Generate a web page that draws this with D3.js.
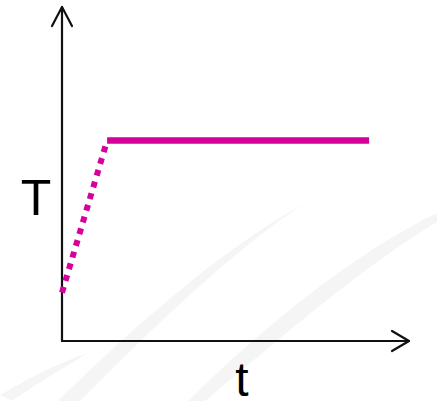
<!DOCTYPE html>
<html>
<head>
<meta charset="utf-8">
<style>
  body { margin: 0; background: #fff; }
  svg { display: block; }
  text { font-family: "Liberation Sans", Arial, sans-serif; fill: #000; }
</style>
</head>
<body>
<svg width="443" height="401"></svg>
<script src="https://cdn.jsdelivr.net/npm/d3@7"></script>
<script>
// heating phase (dotted) and steady phase (solid)
const riseTime = [0, 1.3]
const riseTemp = [1.45, 6.0]
const holdTime = [1.3, 8.85]
const holdTemp = [6.0, 6.0]
const axisLabels = ["T", "t"]

const svg = d3.select("svg")

const x = d3.scaleLinear().domain([0, 10]).range([62, 409])
const y = d3.scaleLinear().domain([0, 10]).range([341, 7])

// faint background streaks
const streaks = [
  "M58,401 C130,330 220,250 305,203 C240,245 160,320 80,401 Z",
  "M188,401 C270,320 360,250 437,213 L437,222 C365,265 290,330 205,401 Z",
  "M0,395 C30,378 60,362 88,353 C60,370 30,388 12,401 Z"
]
svg.append("g").selectAll("path").data(streaks).enter().append("path")
  .attr("d", d => d)
  .attr("fill", "#f4f5f4")

// axes
const ax = svg.append("g").attr("stroke", "#111").attr("fill", "none")
  .attr("stroke-width", 2.2).attr("stroke-linecap", "round").attr("stroke-linejoin", "round")
ax.append("path").attr("d", `M${x(0)},${y(0)}V${y(10)}`)
ax.append("path").attr("d", `M${x(0)},${y(0)}H${x(10)}`)
ax.append("path").attr("d", `M${x(0) - 10},${y(10) + 19}L${x(0)},${y(10)}L${x(0) + 10},${y(10) + 19}`)
ax.append("path").attr("d", `M${x(10) - 17},${y(0) - 10}L${x(10)},${y(0)}L${x(10) - 17},${y(0) + 10}`)

const line = d3.line().x(d => x(d[0])).y(d => y(d[1]))

svg.append("path")
  .datum(d3.zip(riseTime, riseTemp))
  .attr("d", line)
  .attr("fill", "none").attr("stroke", "#d6009a")
  .attr("stroke-width", 6).attr("stroke-dasharray", "6,6.2")

svg.append("path")
  .datum(d3.zip(holdTime, holdTemp))
  .attr("d", line)
  .attr("fill", "none").attr("stroke", "#d6009a")
  .attr("stroke-width", 6.5)

svg.append("text").attr("x", 36).attr("y", 215)
  .attr("text-anchor", "middle").style("font-size", "50px").text(axisLabels[0])
svg.append("text").attr("x", 242).attr("y", 396)
  .attr("text-anchor", "middle").style("font-size", "48px").text(axisLabels[1])
</script>
</body>
</html>
